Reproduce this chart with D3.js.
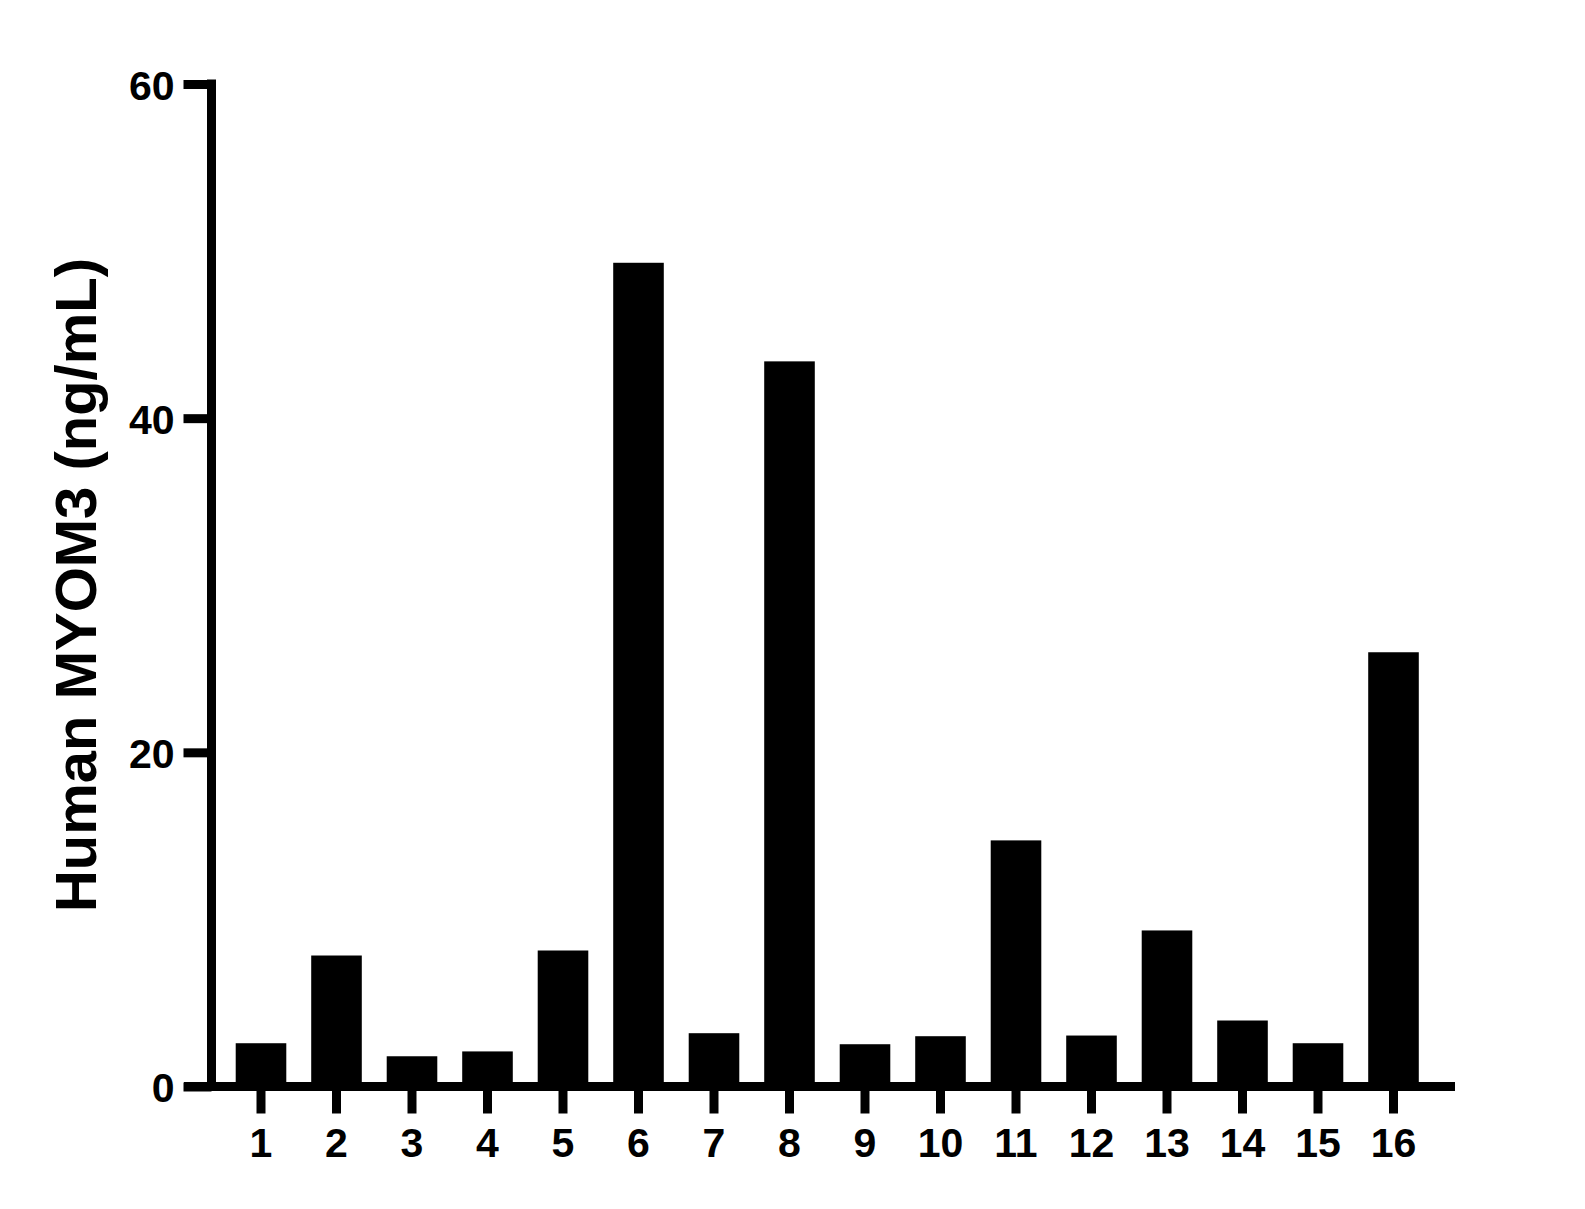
<!DOCTYPE html>
<html>
<head>
<meta charset="utf-8">
<script src="https://cdn.jsdelivr.net/npm/d3@7"></script>
<style>
  html, body { margin: 0; padding: 0; background: #fff; }
  svg { display: block; }
  text { font-family: "Liberation Sans", Arial, sans-serif; font-weight: bold; fill: #000; }
</style>
</head>
<body>
<svg id="chart" width="1585" height="1209"></svg>
<script>
const categories = ["1","2","3","4","5","6","7","8","9","10","11","12","13","14","15","16"];
const values = [2.59, 7.84, 1.81, 2.10, 8.14, 49.3, 3.19, 43.4, 2.53, 3.01, 14.73, 3.05, 9.34, 3.95, 2.59, 25.99];
const yTicks = [0, 20, 40, 60];
const yTitle = "Human MYOM3 (ng/mL)";

const svg = d3.select("#chart");
const axisX0 = 211.5;      // y-axis position
const step = 75.5;
const firstCenter = 261;

const y = d3.scaleLinear().domain([0, 60]).range([1086.5, 84]);
const x = d3.scaleBand()
  .domain(categories)
  .range([firstCenter - step / 2, firstCenter - step / 2 + step * categories.length])
  .paddingInner(0.33)
  .paddingOuter(0.165);

// bars
svg.append("g").selectAll("rect")
  .data(values)
  .join("rect")
  .attr("x", (d, i) => x(categories[i]))
  .attr("width", x.bandwidth())
  .attr("y", d => y(d))
  .attr("height", d => y(0) - y(d))
  .attr("fill", "#000");

// x axis baseline
svg.append("line")
  .attr("x1", 184).attr("x2", 1455)
  .attr("y1", y(0)).attr("y2", y(0))
  .attr("stroke", "#000").attr("stroke-width", 9);

// x axis ticks and labels
const gx = svg.append("g")
  .attr("transform", `translate(0,${y(0)})`)
  .call(d3.axisBottom(x).tickSize(27).tickSizeOuter(0).tickPadding(14));
gx.select(".domain").remove();
gx.selectAll(".tick line").attr("stroke", "#000").attr("stroke-width", 9);
gx.selectAll(".tick text")
  .attr("fill", "#000")
  .style("font-size", "41px")
  .style("font-family", "'Liberation Sans', Arial, sans-serif")
  .style("font-weight", "bold");

// y axis
const gy = svg.append("g")
  .attr("transform", `translate(${axisX0},0)`)
  .call(d3.axisLeft(y).tickValues(yTicks).tickSize(28).tickSizeOuter(0).tickPadding(9).tickFormat(d3.format("d")));
gy.select(".domain").remove();
gy.append("line")
  .attr("x1", 0).attr("x2", 0)
  .attr("y1", y(60) - 4.5).attr("y2", y(0))
  .attr("stroke", "#000").attr("stroke-width", 9);
gy.selectAll(".tick line").attr("stroke", "#000").attr("stroke-width", 9);
gy.selectAll(".tick text")
  .attr("fill", "#000")
  .attr("dy", null)
  .attr("y", 15)
  .style("font-size", "41px")
  .style("font-family", "'Liberation Sans', Arial, sans-serif")
  .style("font-weight", "bold");

// y title
svg.append("text")
  .attr("transform", "translate(96,585) rotate(-90)")
  .attr("text-anchor", "middle")
  .style("font-size", "58px")
  .text(yTitle);
</script>
</body>
</html>
